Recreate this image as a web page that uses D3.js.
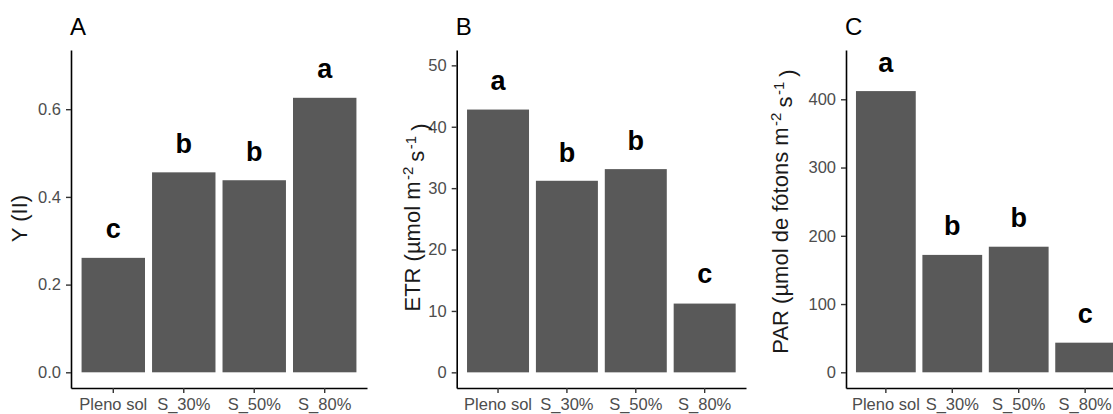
<!DOCTYPE html>
<html>
<head>
<meta charset="utf-8">
<script src="https://cdn.jsdelivr.net/npm/d3@7"></script>
<style>
  body { margin: 0; background: #fff; }
  svg { display: block; font-family: "Liberation Sans", Arial, sans-serif; }
</style>
</head>
<body>
<div id="chart"></div>
<script>
// data
const categories = ["Pleno sol", "S_30%", "S_50%", "S_80%"];

const yiiValues = [0.261, 0.456, 0.438, 0.626];
const yiiLetters = ["c", "b", "b", "a"];
const yiiLetterY = [0.307, 0.5, 0.483, 0.671];
const yiiTicks = [0, 0.2, 0.4, 0.6];

const etrValues = [42.8, 31.2, 33.1, 11.2];
const etrLetters = ["a", "b", "b", "c"];
const etrLetterY = [46.0, 34.3, 36.2, 14.5];
const etrTicks = [0, 10, 20, 30, 40, 50];

const parValues = [412, 172, 184, 43.4];
const parLetters = ["a", "b", "b", "c"];
const parLetterY = [440, 201, 212.5, 71.8];
const parTicks = [0, 100, 200, 300, 400];

let width = 1113,
    height = 414,
    panelTop = 50,
    panelBottom = 388;

const svg = d3
    .select("#chart")
    .append("svg")
    .attr("width", width)
    .attr("height", height);

const panels = [
    {
        title: "A", left: 71, right: 367, domain: [-0.0358, 0.735],
        values: yiiValues, letters: yiiLetters, letterY: yiiLetterY,
        ticks: yiiTicks, fmt: d3.format(".1f"),
        ylab: [{ t: "Y (II)" }], ylabX: 26.7, ylabY: 218.5
    },
    {
        title: "B", left: 456.7, right: 746, domain: [-2.55, 52.5],
        values: etrValues, letters: etrLetters, letterY: etrLetterY,
        ticks: etrTicks, fmt: d3.format("d"),
        ylab: [{ t: "ETR (µmol m" }, { t: "-2", sup: true }, { t: "s" }, { t: "-1", sup: true }, { t: ")" }],
        ylabX: 420, ylabY: 217.5
    },
    {
        title: "C", left: 846, right: 1125, domain: [-23, 472.2],
        values: parValues, letters: parLetters, letterY: parLetterY,
        ticks: parTicks, fmt: d3.format("d"),
        ylab: [{ t: "PAR (µmol de fótons m" }, { t: "-2", sup: true }, { t: "s" }, { t: "-1", sup: true }, { t: ")" }],
        ylabX: 788, ylabY: 211.5
    }
];

for (let p of panels) {
    let x = d3
        .scaleBand()
        .domain(categories)
        .range([p.left, p.right])
        .paddingInner(0.1)
        .paddingOuter(0.15);

    let y = d3.scaleLinear().domain(p.domain).range([panelBottom, panelTop]);

    const g = svg.append("g");

    g.selectAll("rect")
        .data(categories)
        .join("rect")
        .attr("x", (d) => x(d))
        .attr("y", (d, i) => y(p.values[i]))
        .attr("width", x.bandwidth())
        .attr("height", (d, i) => y(0) - y(p.values[i]))
        .attr("fill", "#595959");

    g.selectAll("text.letter")
        .data(categories)
        .join("text")
        .attr("class", "letter")
        .attr("x", (d) => x(d) + x.bandwidth() / 2)
        .attr("y", (d, i) => y(p.letterY[i]))
        .attr("text-anchor", "middle")
        .style("font-size", "27px")
        .style("font-weight", "bold")
        .text((d, i) => p.letters[i]);

    // axes
    const yAxis = g
        .append("g")
        .attr("transform", `translate(${p.left},0)`)
        .call(d3.axisLeft(y).tickValues(p.ticks).tickFormat(p.fmt).tickSize(5).tickSizeOuter(0).tickPadding(5));

    const xAxis = g
        .append("g")
        .attr("transform", `translate(0,${panelBottom})`)
        .call(d3.axisBottom(x).tickSize(5).tickSizeOuter(0).tickPadding(5.5));

    for (let a of [xAxis, yAxis]) {
        a.select(".domain").attr("stroke", "#000").attr("stroke-width", 1.6);
        a.selectAll(".tick line").attr("stroke", "#333").attr("stroke-width", 1.4);
        a.selectAll(".tick text")
            .attr("fill", "#4d4d4d")
            .style("font-size", "16.5px")
            .style("font-family", "Liberation Sans, Arial, sans-serif");
    }

    // panel tag
    g.append("text")
        .attr("x", p.left - 1)
        .attr("y", 35)
        .style("font-size", "24px")
        .attr("fill", "#000")
        .text(p.title);

    // y title, centred on its own box
    const yt = g
        .append("text")
        .attr("fill", "#1a1a1a")
        .style("font-size", "22px");
    p.ylab.forEach((s, i) => {
        const prevSup = i > 0 && p.ylab[i - 1].sup;
        yt.append("tspan")
            .attr("dx", s.sup ? 1.5 : prevSup ? 5 : null)
            .attr("dy", s.sup ? "-0.5em" : prevSup ? "0.5em" : null)
            .style("font-size", s.sup ? "15px" : null)
            .text(s.t);
    });
    const bb = yt.node().getBBox();
    yt.attr("transform", `translate(${p.ylabX},${p.ylabY}) rotate(-90) translate(${-bb.width / 2},0)`);
}
</script>
</body>
</html>
